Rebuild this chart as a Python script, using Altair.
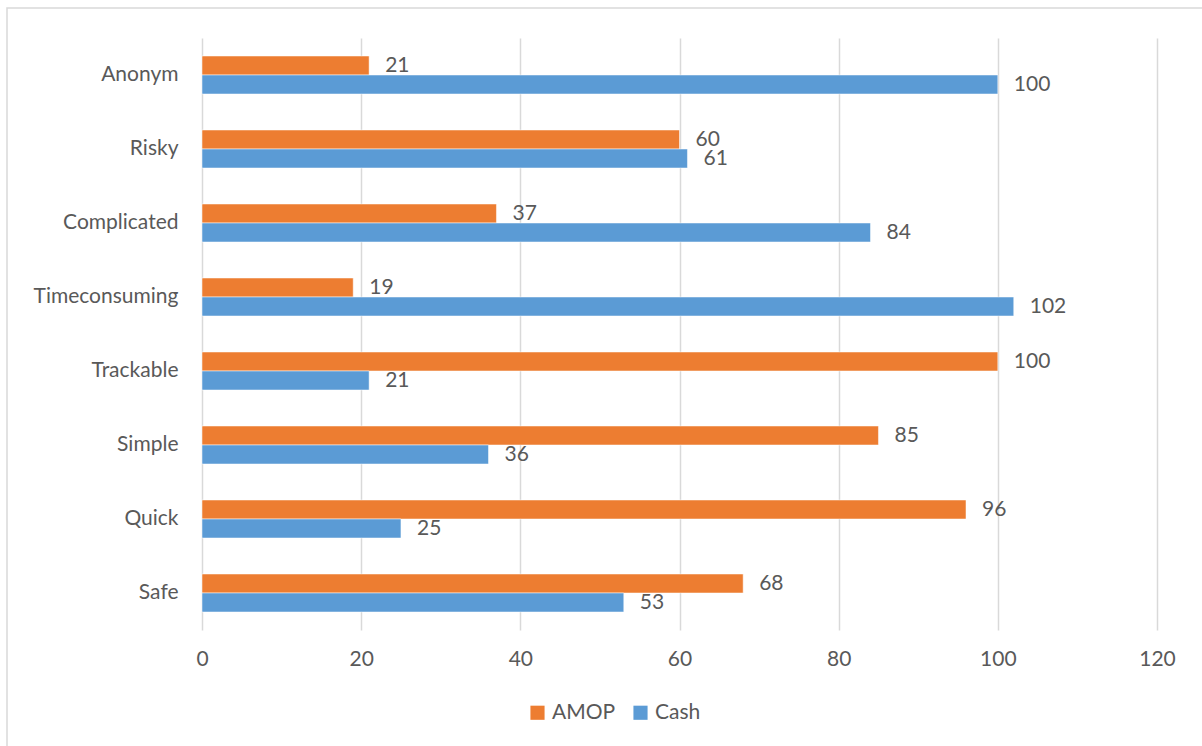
import altair as alt
import pandas as pd

categories = ["Anonym", "Risky", "Complicated", "Timeconsuming", "Trackable", "Simple", "Quick", "Safe"]
amop = [21, 60, 37, 19, 100, 85, 96, 68]
cash = [100, 61, 84, 102, 21, 36, 25, 53]
series = ["AMOP", "Cash"]
colors = ["#ED7D31", "#5B9BD5"]

rows = []
for c, a, b in zip(categories, amop, cash):
    rows.append({"cat": c, "series": "AMOP", "value": a})
    rows.append({"cat": c, "series": "Cash", "value": b})
df = pd.DataFrame(rows)

FONT = "Lato"
TXT = "#595959"
FS = 21
pi = 1 - 38 / 74

y = alt.Y("cat:N", sort=categories, title=None,
          scale=alt.Scale(paddingInner=pi, paddingOuter=pi / 2),
          axis=alt.Axis(labelFontSize=FS, labelColor=TXT, labelFont=FONT, ticks=False,
                        domain=False, grid=False, labelPadding=24))
yoff = alt.YOffset("series:N", sort=series, scale=alt.Scale(domain=series, paddingInner=0, paddingOuter=0))

bars = alt.Chart(df).mark_bar(stroke="white", strokeWidth=0.5).encode(
    x=alt.X("value:Q", scale=alt.Scale(domain=[0, 120], nice=False), title=None,
            axis=alt.Axis(values=[0, 20, 40, 60, 80, 100, 120], labelFontSize=FS, labelColor=TXT,
                          labelFont=FONT, ticks=False, domain=False, grid=True, gridColor="#D9D9D9",
                          gridWidth=1.5, labelPadding=18, labelFlush=False)),
    y=y,
    yOffset=yoff,
    color=alt.Color("series:N", sort=series, scale=alt.Scale(domain=series, range=colors),
                    legend=alt.Legend(title=None, orient="none", direction="horizontal",
                                      legendX=325, legendY=664, symbolType="square", symbolSize=200,
                                      symbolStrokeWidth=0, labelFontSize=FS, labelColor=TXT,
                                      labelFont=FONT, columnPadding=14, labelOffset=4)),
)

labels = alt.Chart(df).mark_text(align="left", baseline="middle", dx=16, fontSize=FS,
                                 font=FONT, color=TXT).encode(
    x="value:Q", y=y, yOffset=yoff, text="value:Q"
)

border = alt.Chart(pd.DataFrame({"a": [0]})).mark_rect(
    fill=None, stroke="#D9D9D9", strokeWidth=1.5, clip=False
).encode(x=alt.value(-195), x2=alt.value(1100), y=alt.value(-30), y2=alt.value(800))

chart = alt.layer(border, bars, labels).properties(
    width=955, height=592,
    background="white",
    autosize=alt.AutoSizeParams(type="none"),
    padding={"left": 202, "top": 38, "right": 45, "bottom": 116},
).configure_view(stroke="transparent", strokeWidth=0)

chart.save("out.html", embed_options={"renderer": "svg", "actions": False})
